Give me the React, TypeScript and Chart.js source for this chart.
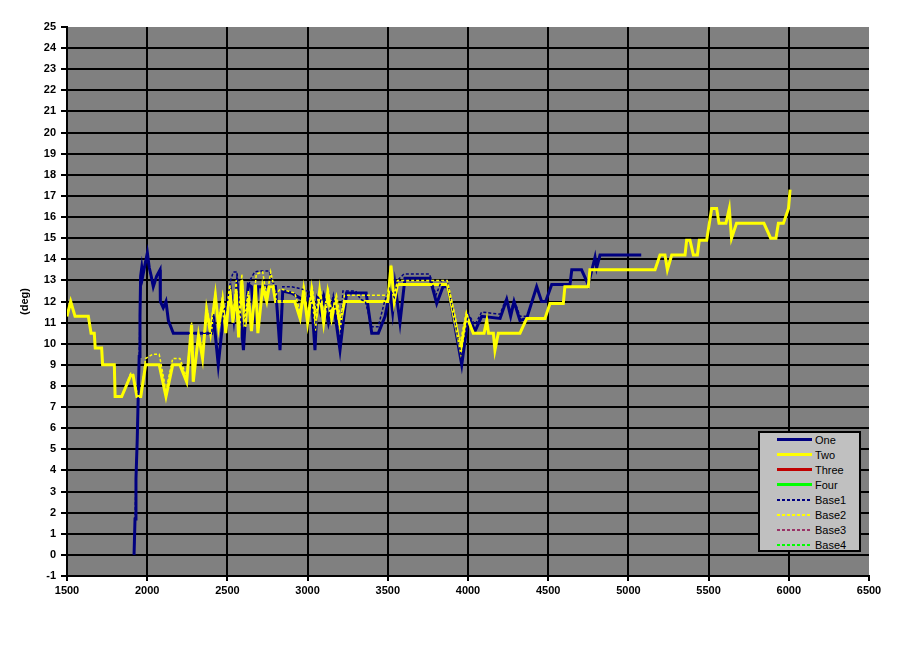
import { useEffect, useRef } from "react";
import { Chart, registerables } from "chart.js";

Chart.register(...registerables);

const seriesNames = ["One", "Two", "Three", "Four", "Base1", "Base2", "Base3", "Base4"];
const seriesColors = ["#000080", "#ffff00", "#c00000", "#00ff00", "#000080", "#ffff00", "#993366", "#00ff00"];

// One (navy, solid)
const oneX = [1918, 1924, 1930, 1938, 1944, 1950, 1955, 1959, 1966, 1972, 1985, 2001, 2013, 2025, 2038, 2059, 2080, 2082, 2100, 2117, 2132, 2163, 2402, 2412, 2443, 2475, 2500, 2520, 2540, 2560, 2580, 2600, 2615, 2630, 2650, 2670, 2690, 2800, 2828, 2845, 2900, 2990, 3010, 3030, 3046, 3060, 3080, 3100, 3130, 3160, 3202, 3243, 3365, 3400, 3441, 3483, 3514, 3530, 3545, 3576, 3607, 3763, 3805, 3844, 3875, 3961, 4002, 4044, 4085, 4200, 4241, 4266, 4287, 4324, 4366, 4428, 4459, 4484, 4522, 4636, 4647, 4708, 4750, 4792, 4802, 4823, 5080];
const oneY = [0, 1.7, 3.6, 5.5, 7.5, 9.4, 11.3, 13.2, 13.6, 13.2, 13.7, 14.3, 13.6, 13.2, 12.7, 13.2, 13.5, 12.0, 11.7, 12.0, 11.1, 10.5, 10.5, 11.4, 9.0, 11.3, 11.8, 12.5, 11.2, 12.8, 11.5, 9.7, 11.5, 12.8, 12.7, 11.0, 12.7, 12.7, 9.7, 12.5, 12.4, 12.0, 12.3, 11.5, 9.7, 12.0, 11.5, 12.2, 11.0, 12.0, 9.7, 12.4, 12.4, 10.5, 10.5, 11.3, 12.5, 11.5, 12.8, 11.0, 13.1, 13.1, 11.9, 12.7, 12.7, 9.0, 11.3, 10.6, 11.3, 11.2, 12.1, 11.3, 12.0, 11.1, 11.2, 12.7, 12.0, 12.0, 12.8, 12.8, 13.5, 13.5, 12.8, 14.1, 13.6, 14.2, 14.2];

// Two (yellow, solid)
const twoX = [1500, 1523, 1550, 1633, 1650, 1670, 1676, 1716, 1722, 1795, 1800, 1841, 1897, 1912, 1936, 1960, 1990, 2075, 2117, 2159, 2204, 2246, 2277, 2287, 2320, 2345, 2370, 2395, 2425, 2445, 2470, 2490, 2515, 2535, 2555, 2570, 2590, 2610, 2630, 2650, 2675, 2690, 2720, 2745, 2760, 2785, 2800, 2920, 2953, 2975, 3000, 3025, 3050, 3075, 3100, 3125, 3150, 3175, 3202, 3230, 3500, 3520, 3540, 3560, 3872, 3920, 3955, 3991, 4033, 4100, 4117, 4128, 4158, 4168, 4189, 4324, 4366, 4480, 4511, 4594, 4604, 4750, 4760, 5166, 5197, 5228, 5243, 5270, 5353, 5363, 5384, 5405, 5430, 5442, 5488, 5519, 5550, 5565, 5608, 5629, 5643, 5674, 5845, 5887, 5920, 5935, 5966, 5998, 6008];
const twoY = [11.3, 12.0, 11.3, 11.3, 10.5, 10.5, 9.8, 9.8, 9.0, 9.0, 7.5, 7.5, 8.5, 8.5, 7.5, 7.5, 9.0, 9.0, 7.5, 9.0, 9.0, 8.2, 10.9, 8.2, 10.4, 9.3, 11.6, 10.5, 12.3, 10.8, 12.0, 10.5, 12.6, 11.0, 12.5, 10.3, 13.0, 10.8, 12.3, 10.6, 12.8, 10.5, 12.7, 12.0, 12.7, 12.7, 12.0, 12.0, 11.2, 12.5, 11.0, 12.5, 11.0, 12.5, 11.0, 12.4, 11.2, 12.0, 10.9, 12.0, 12.0, 13.7, 12.0, 12.8, 12.8, 11.0, 9.7, 11.3, 10.5, 10.5, 11.1, 10.5, 10.5, 9.7, 10.5, 10.5, 11.2, 11.2, 11.9, 11.9, 12.7, 12.7, 13.5, 13.5, 14.2, 14.2, 13.5, 14.2, 14.2, 14.9, 14.9, 14.2, 14.2, 14.9, 14.9, 16.4, 16.4, 15.7, 15.7, 16.4, 15.0, 15.7, 15.7, 15.0, 15.0, 15.7, 15.7, 16.4, 17.3];

// Three, Four: no values shown
const threeX: number[] = [];
const threeY: number[] = [];
const fourX: number[] = [];
const fourY: number[] = [];

// Base1 (navy, dotted)
const base1X = [1918, 1924, 1930, 1938, 1944, 1950, 1955, 1959, 1966, 1972, 1985, 2001, 2013, 2025, 2038, 2059, 2080, 2082, 2100, 2117, 2132, 2163, 2402, 2412, 2443, 2475, 2500, 2520, 2537, 2560, 2575, 2600, 2615, 2640, 2670, 2700, 2760, 2780, 2800, 2828, 2845, 2900, 2960, 3000, 3030, 3046, 3060, 3080, 3100, 3130, 3160, 3202, 3220, 3300, 3330, 3360, 3400, 3440, 3480, 3510, 3540, 3560, 3600, 3760, 3800, 3836, 3871, 3920, 3961, 4002, 4044, 4085, 4200, 4241, 4266, 4287, 4324, 4366];
const base1Y = [0, 1.7, 3.6, 5.5, 7.5, 9.4, 11.3, 13.2, 13.6, 13.2, 13.7, 14.3, 13.6, 13.2, 12.7, 13.2, 13.5, 12.0, 11.7, 12.0, 11.1, 10.5, 10.5, 11.4, 9.2, 11.5, 12.0, 13.0, 13.4, 13.4, 11.8, 10.0, 11.8, 13.0, 13.4, 13.45, 13.45, 12.9, 12.8, 10.0, 12.7, 12.7, 12.6, 12.5, 11.8, 10.0, 12.3, 12.0, 12.4, 11.3, 12.3, 10.0, 12.5, 12.5, 12.1, 12.0, 10.8, 10.8, 12.0, 12.6, 12.2, 13.0, 13.3, 13.3, 12.3, 13.0, 13.0, 11.0, 9.3, 11.4, 10.9, 11.5, 11.4, 12.2, 11.5, 12.1, 11.3, 11.3];

// Base2 (yellow, dotted)
const base2X = [1500, 1523, 1550, 1633, 1650, 1670, 1676, 1716, 1722, 1795, 1800, 1841, 1897, 1912, 1936, 1960, 1990, 2035, 2075, 2117, 2159, 2204, 2246, 2277, 2290, 2320, 2345, 2370, 2395, 2425, 2445, 2470, 2490, 2515, 2535, 2555, 2570, 2590, 2610, 2630, 2650, 2680, 2720, 2745, 2770, 2790, 2800, 2830, 2920, 2953, 2980, 3000, 3030, 3055, 3080, 3100, 3130, 3150, 3180, 3205, 3230, 3500, 3520, 3540, 3560, 3870, 3920, 3950, 3990, 4033];
const base2Y = [11.3, 12.0, 11.3, 11.3, 10.5, 10.5, 9.8, 9.8, 9.0, 9.0, 7.5, 7.5, 8.6, 8.6, 7.5, 7.5, 9.3, 9.5, 9.5, 7.8, 9.3, 9.3, 8.4, 11.0, 8.5, 10.6, 9.6, 11.8, 10.8, 12.4, 11.0, 12.3, 10.8, 12.8, 11.2, 13.0, 10.6, 13.3, 11.0, 12.5, 10.8, 13.3, 13.4, 12.2, 13.4, 12.7, 12.3, 12.6, 12.4, 11.5, 12.6, 11.3, 12.6, 11.3, 12.6, 11.3, 12.5, 11.5, 12.3, 11.2, 12.3, 12.3, 13.5, 12.2, 13.0, 13.0, 11.3, 10.0, 11.5, 10.5];

// Base3, Base4: no values shown
const base3X: number[] = [];
const base3Y: number[] = [];
const base4X: number[] = [];
const base4Y: number[] = [];

const seriesX = [oneX, twoX, threeX, fourX, base1X, base2X, base3X, base4X];
const seriesY = [oneY, twoY, threeY, fourY, base1Y, base2Y, base3Y, base4Y];

const tickFont = { family: '"Liberation Sans", Arial, sans-serif', size: 11, weight: "bold" as const };

const plotBackground = {
  id: "plotBackground",
  beforeDraw(chart: Chart) {
    const { ctx, chartArea } = chart;
    ctx.save();
    ctx.fillStyle = "#808080";
    ctx.fillRect(chartArea.left, chartArea.top, chartArea.right - chartArea.left, chartArea.bottom - chartArea.top);
    ctx.restore();
  },
};

function Legend() {
  return (
    <div
      style={{
        position: "absolute",
        left: 758,
        top: 431,
        width: 99,
        height: 117,
        border: "2px solid #000",
        background: "#c0c0c0",
        font: '11px "Liberation Sans", Arial, sans-serif',
        color: "#000",
      }}
    >
      {seriesNames.map((name, i) => (
        <div
          key={name}
          style={{ position: "absolute", left: 17, top: -1 + i * 15.05, height: 15, display: "flex", alignItems: "center" }}
        >
          <span
            style={{
              display: "inline-block",
              width: 35,
              height: i < 4 ? 3 : 2,
              marginRight: 3,
              background:
                i < 4
                  ? seriesColors[i]
                  : `repeating-linear-gradient(to right, ${seriesColors[i]} 0 3px, transparent 3px 5px)`,
            }}
          />
          <span>{name}</span>
        </div>
      ))}
    </div>
  );
}

export default function App() {
  const chartRef = useRef<HTMLCanvasElement>(null);
  const chartInstance = useRef<Chart | null>(null);

  useEffect(() => {
    if (!chartRef.current) return;
    if (chartInstance.current) chartInstance.current.destroy();

    const ctx = chartRef.current.getContext("2d");
    if (!ctx) return;

    chartInstance.current = new Chart(ctx, {
      type: "line",
      data: {
        datasets: seriesNames.map((name, i) => ({
          label: name,
          data: seriesX[i].map((x, j) => ({ x, y: seriesY[i][j] })),
          borderColor: seriesColors[i],
          backgroundColor: seriesColors[i],
          borderWidth: i < 4 ? 3 : 1.5,
          borderDash: i < 4 ? [] : [3, 2],
          pointRadius: 0,
          tension: 0,
          fill: false,
          order: 8 - i,
        })),
      },
      options: {
        animation: false,
        responsive: true,
        maintainAspectRatio: false,
        layout: { padding: { top: 27, right: 51, bottom: 65, left: 0 } },
        plugins: {
          legend: { display: false },
          tooltip: { enabled: false },
        },
        scales: {
          x: {
            type: "linear",
            min: 1500,
            max: 6500,
            afterFit: (scale) => {
              scale.height = 30;
            },
            ticks: {
              stepSize: 500,
              color: "#000",
              font: tickFont,
              padding: 3,
              maxRotation: 0,
              callback: (value) => String(value),
            },
            grid: {
              color: (c) => (c.tick && c.tick.value === 6500 ? "rgba(0,0,0,0)" : "#000"),
              tickColor: "#000",
              lineWidth: 2,
              tickLength: 5,
            },
            border: { display: true, color: "#000", width: 2 },
          },
          y: {
            min: -1,
            max: 25,
            afterFit: (scale) => {
              scale.width = 67;
            },
            ticks: { stepSize: 1, color: "#000", font: tickFont, padding: 5 },
            grid: {
              color: (c) => (c.tick && c.tick.value === 25 ? "rgba(0,0,0,0)" : "#000"),
              tickColor: "#000",
              lineWidth: 2,
              tickLength: 6,
            },
            border: { display: true, color: "#000", width: 2 },
            title: {
              display: true,
              text: "(deg)",
              color: "#000",
              font: tickFont,
              padding: { top: 18, bottom: 0 },
            },
          },
        },
      },
      plugins: [plotBackground],
    });

    return () => {
      if (chartInstance.current) {
        chartInstance.current.destroy();
        chartInstance.current = null;
      }
    };
  }, []);

  return (
    <div style={{ position: "absolute", left: 0, top: 0, width: 920, height: 671, background: "#fff" }}>
      <canvas ref={chartRef}></canvas>
      <Legend />
    </div>
  );
}
